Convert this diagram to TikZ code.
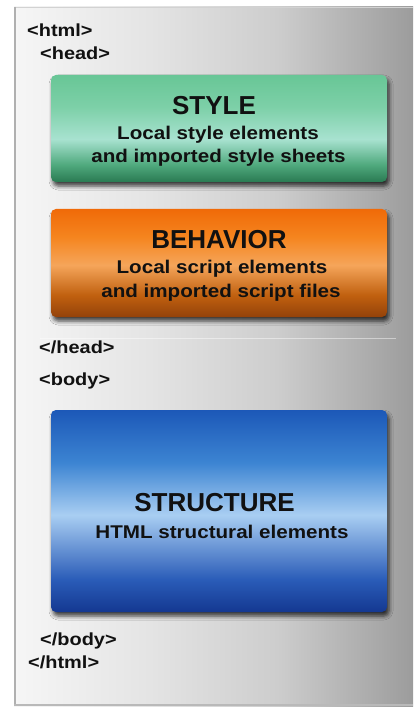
\documentclass[tikz,border=0pt]{standalone}
\usepackage{fontspec}
\setmainfont{Liberation Sans}
\newfontfamily\widefont{Liberation Sans}[FakeStretch=1.12]
\newfontfamily\tagfont{Liberation Sans}[FakeStretch=1.14]
\usetikzlibrary{shadows.blur}
\definecolor{pl}{HTML}{F6F6F6}
\definecolor{pa}{HTML}{E4E4E4}
\definecolor{pb}{HTML}{CDCDCD}
\definecolor{pr}{HTML}{9C9C9C}
\definecolor{gbot}{HTML}{2A7A52}
\definecolor{glow}{HTML}{4FA97D}
\definecolor{glight}{HTML}{A8E2D0}
\definecolor{gup}{HTML}{7DD0A8}
\definecolor{gtop}{HTML}{68C696}
\definecolor{obot}{HTML}{94420A}
\definecolor{olow}{HTML}{C0600F}
\definecolor{olight}{HTML}{F5A55A}
\definecolor{oup}{HTML}{F5851F}
\definecolor{otop}{HTML}{F06A08}
\definecolor{bbot}{HTML}{143891}
\definecolor{blow}{HTML}{2A5CB8}
\definecolor{blight}{HTML}{A9CEF2}
\definecolor{bup}{HTML}{3C84D2}
\definecolor{btop}{HTML}{1C58B8}
\definecolor{txt}{HTML}{111111}
\pgfdeclarehorizontalshading{panelshade}{100bp}{color(0bp)=(pl); color(25bp)=(pl); color(42bp)=(pa); color(58bp)=(pb); color(75bp)=(pr); color(100bp)=(pr)}
\pgfdeclareverticalshading{greenshade}{100bp}{color(0bp)=(gbot); color(25bp)=(gbot); color(33bp)=(glow); color(45bp)=(glight); color(60bp)=(gup); color(75bp)=(gtop); color(100bp)=(gtop)}
\pgfdeclareverticalshading{orangeshade}{100bp}{color(0bp)=(obot); color(25bp)=(obot); color(35bp)=(olow); color(49bp)=(olight); color(62bp)=(oup); color(75bp)=(otop); color(100bp)=(otop)}
\pgfdeclareverticalshading{blueshade}{100bp}{color(0bp)=(bbot); color(25bp)=(bbot); color(33bp)=(blow); color(49bp)=(blight); color(62bp)=(bup); color(75bp)=(btop); color(100bp)=(btop)}
\tikzset{
  layerbox/.style={rounded corners=5pt, inner sep=0pt, minimum width=336pt,
    blur shadow={shadow xshift=2pt, shadow yshift=-4pt, shadow blur radius=4pt, shadow opacity=75}},
  tag/.style={anchor=base west, inner sep=0pt, text=txt, font=\tagfont\bfseries\fontsize{17.5}{20}\selectfont},
  title/.style={anchor=base, inner sep=0pt, text=txt, font=\bfseries\fontsize{26}{30}\selectfont},
  sub/.style={anchor=base, inner sep=0pt, text=txt, font=\widefont\bfseries\fontsize{18.4}{21}\selectfont},
}
\begin{document}
\begin{tikzpicture}[x=1pt,y=-1pt]
\useasboundingbox (0,0) rectangle (413,708);
\fill[white] (0,0) rectangle (413,708);
% panel
\shade[shading=panelshade] (14,7) rectangle (413,706);
\draw[gray!35, line width=0.6pt] (14,7.3) -- (413,7.3);
\draw[gray!62, line width=2.5pt] (14.8,7) -- (14.8,706);
\draw[gray!55, line width=2pt] (14,705) -- (413,705);
\draw[white, opacity=0.45, line width=0.8pt] (40,338) -- (396,338);
% boxes
\node[layerbox, shading=greenshade, minimum height=107pt] (style) at (219,128.5) {};
\node[layerbox, shading=orangeshade, minimum height=108pt] (behavior) at (219,263) {};
\node[layerbox, shading=blueshade, minimum height=202pt] (structure) at (219,511) {};
% tags
\node[tag] (htmlopen) at (27,37) {<html>};
\node[tag] (headopen) at (40,60) {<head>};
\node[tag] (headclose) at (39,353) {</head>};
\node[tag] (bodyopen) at (39,385) {<body>};
\node[tag] (bodyclose) at (40,645) {</body>};
\node[tag] (htmlclose) at (28,668) {</html>};
% box texts
\node[title] (styletitle) at (214,115) {STYLE};
\node[sub] (stylesub1) at (218,140) {Local style elements};
\node[sub] (stylesub2) at (218.5,163) {and imported style sheets};
\node[title] (behtitle) at (219,249) {BEHAVIOR};
\node[sub] (behsub1) at (222,273) {Local script elements};
\node[sub] (behsub2) at (221,297) {and imported script files};
\node[title] (structtitle) at (214.5,511) {STRUCTURE};
\node[sub] (structsub) at (222,538) {HTML structural elements};
\end{tikzpicture}
\end{document}
